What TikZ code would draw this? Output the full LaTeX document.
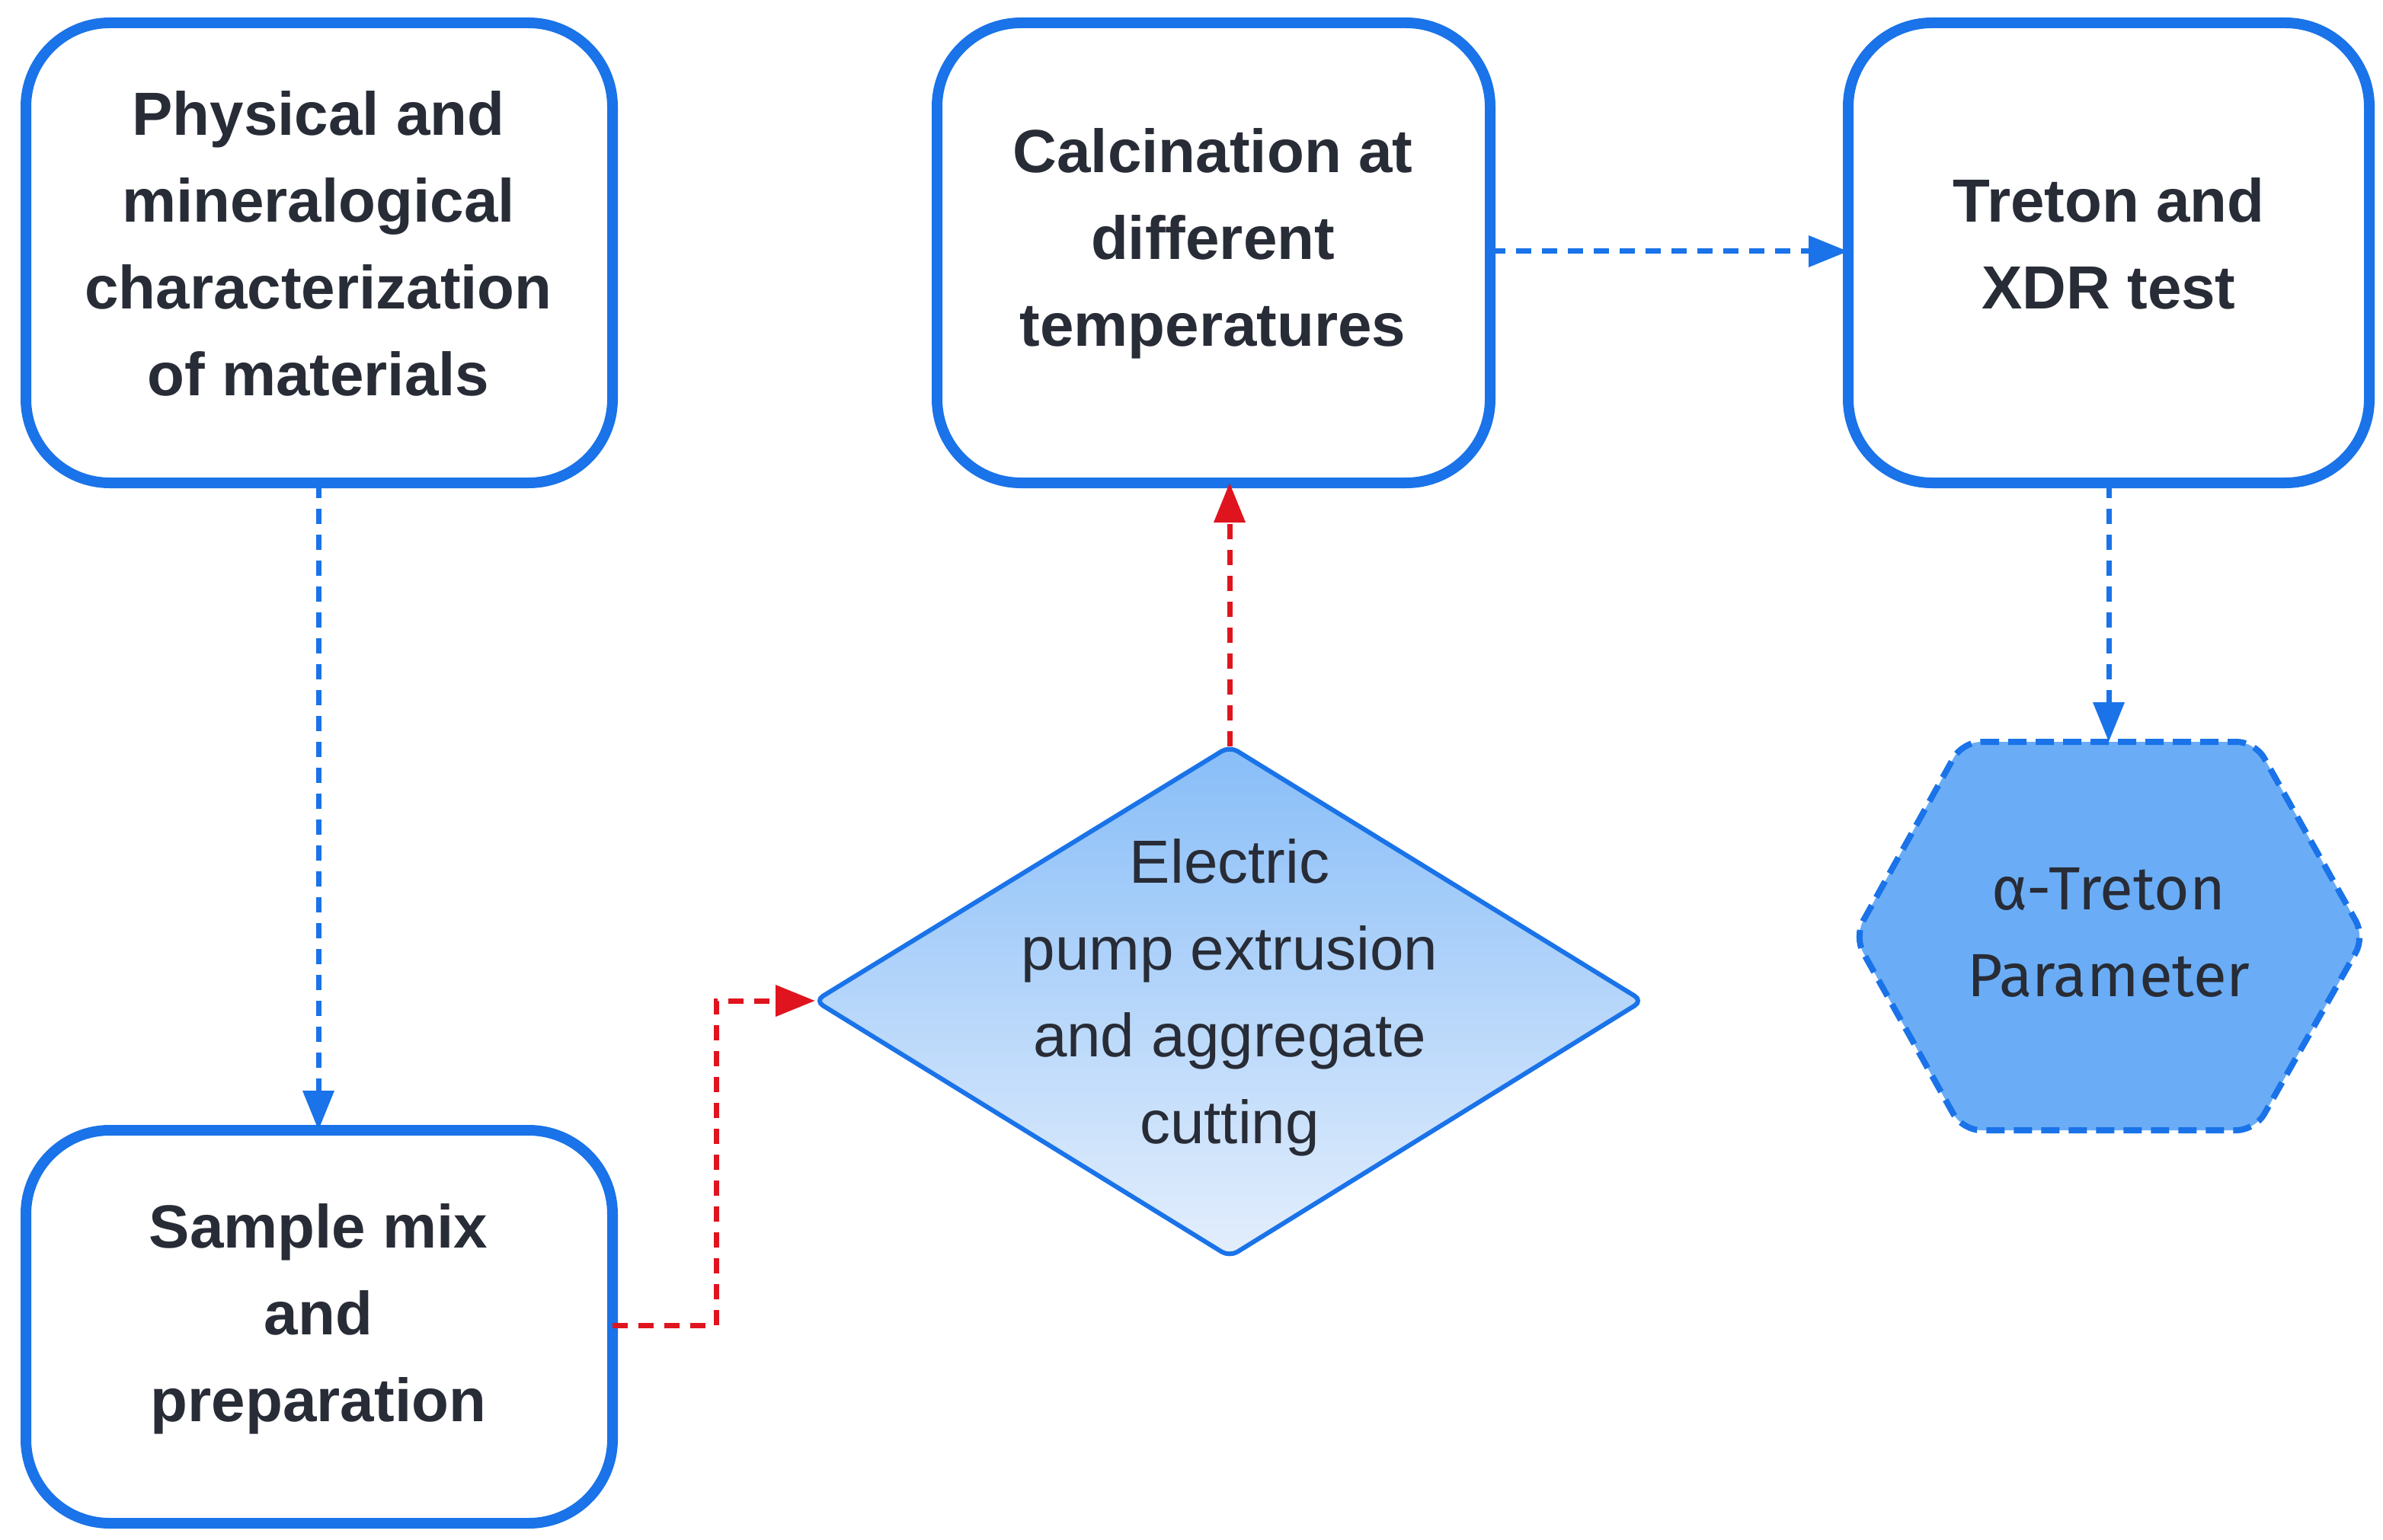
\documentclass[tikz,border=0pt]{standalone}
\usepackage{fontspec}
\setmainfont{Liberation Sans}
\newfontfamily\hexfont{Fira Sans}
\usetikzlibrary{arrows.meta}
\definecolor{bl}{HTML}{1A73E8}
\definecolor{rd}{HTML}{E0141E}
\definecolor{tx}{HTML}{282C36}
\definecolor{hexf}{HTML}{6AADF6}
\begin{document}
\begin{tikzpicture}[x=1pt,y=-1pt,
  box/.style={draw=bl,line width=7pt,rounded corners=55pt,fill=white},
  btxt/.style={text=tx,font=\fontsize{40}{57}\selectfont\bfseries,align=center},
  bar/.style={draw=bl,line width=3.5pt,dash pattern=on 10pt off 7pt,-{Triangle[length=26pt,width=20pt]}},
  rar/.style={draw=rd,line width=3.5pt,dash pattern=on 10pt off 7pt,-{Triangle[length=26pt,width=20pt]}}]
\useasboundingbox (0,0) rectangle (1564,1011);
\draw[box] (17,15) rectangle (402,317);
\node[btxt] (b1) at (209,160) {Physical and\\mineralogical\\characterization\\of materials};
\draw[box] (17,742) rectangle (402,1000);
\node[btxt] (b2) at (209,866) {Sample mix\\and\\preparation};
\draw[box] (615,15) rectangle (978,317);
\node[btxt] (b3) at (796,160) {Calcination at\\different\\temperatures};
\draw[box] (1213,15) rectangle (1555,317);
\node[btxt] (b4) at (1384,160) {Treton and\\XDR test};
\coordinate (b1s) at (209,317); \coordinate (b2n) at (209,742);
\coordinate (b2e) at (402,870); \coordinate (b3s) at (807,317);
\coordinate (b3e) at (978,165); \coordinate (b4w) at (1213,165);
\coordinate (b4s) at (1384,317);
% diamond
\shade[top color=hexf!80,bottom color=bl!12,draw=bl,line width=3pt,rounded corners=6pt]
  (807,490) -- (1078,657) -- (807,825) -- (535,657) -- cycle;
\node[text=tx,font=\fontsize{40}{57}\selectfont,align=center] (d) at (807,655)
  {Electric\\pump extrusion\\and aggregate\\cutting};
\coordinate (dn) at (807,490); \coordinate (dw) at (535,657);
% hexagon
\draw[fill=hexf,draw=bl,line width=4pt,dash pattern=on 12pt off 6pt,rounded corners=12pt]
  (1288,487) -- (1480,487) -- (1552,615) -- (1480,742) -- (1288,742) -- (1217,615) -- cycle;
\node[text=tx,font=\hexfont\fontsize{40}{57}\selectfont,align=center] (h) at (1384,612)
  {α-Treton\\Parameter};
\coordinate (hn) at (1384,487);
\draw[bar] (b1s) -- (b2n);
\draw[rar] (b2e) -- (470,870) -- (470,657) -- (dw);
\draw[rar] (dn) -- (b3s);
\draw[bar] (b3e) -- (b4w);
\draw[bar] (b4s) -- (hn);
\end{tikzpicture}
\end{document}
